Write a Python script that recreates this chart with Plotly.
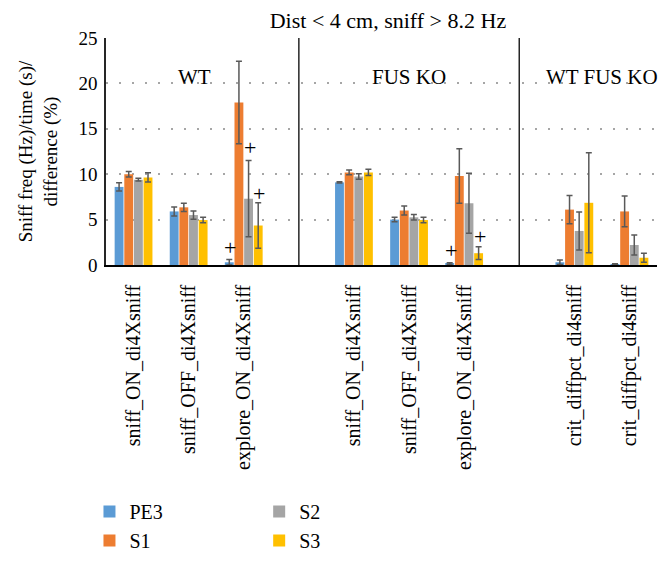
import plotly.graph_objects as go

categories = ["sniff_ON_di4Xsniff", "sniff_OFF_di4Xsniff", "explore_ON_di4Xsniff", "",
              "sniff_ON_di4Xsniff", "sniff_OFF_di4Xsniff", "explore_ON_di4Xsniff", "",
              "crit_diffpct_di4sniff", "crit_diffpct_di4sniff"]

series_names = ["PE3", "S1", "S2", "S3"]
pe3 = [8.6, 5.9, 0.3, None, 9.1, 5.0, 0.15, None, 0.3, 0.1]
s1 = [10.0, 6.35, 17.9, None, 10.2, 6.0, 9.8, None, 6.1, 5.9]
s2 = [9.4, 5.5, 7.3, None, 9.75, 5.25, 6.8, None, 3.75, 2.2]
s3 = [9.65, 4.95, 4.35, None, 10.2, 4.95, 1.3, None, 6.85, 0.8]
pe3_err = [0.45, 0.5, 0.3, None, 0.06, 0.25, 0.1, None, 0.25, 0.05]
s1_err = [0.3, 0.45, 4.55, None, 0.25, 0.5, 3.0, None, 1.55, 1.7]
s2_err = [0.15, 0.45, 4.2, None, 0.3, 0.3, 3.3, None, 2.1, 1.1]
s3_err = [0.5, 0.3, 2.5, None, 0.35, 0.3, 0.7, None, 5.5, 0.5]
colors = ["#5B9BD5", "#ED7D31", "#A5A5A5", "#FFC000"]

group_labels = ["WT", "FUS KO", "WT FUS KO"]
group_centers = [1.1, 5.0, 8.5]
separators = [3, 7]

# "+" markers: (category index, series index, y value)
plus_marks = [(2, 0, 1.9), (2, 2, 12.9), (2, 3, 7.9), (6, 0, 1.6), (6, 3, 3.1)]

x = list(range(len(categories)))
font = "Liberation Serif, Times New Roman, serif"

fig = go.Figure()
values = [pe3, s1, s2, s3]
errs = [pe3_err, s1_err, s2_err, s3_err]
for i, name in enumerate(series_names):
    fig.add_trace(go.Bar(
        x=x, y=values[i], name=name, marker_color=colors[i], marker_line_width=0,
        error_y=dict(type="data", array=errs[i], visible=True, color="#595959",
                     thickness=1.5, width=3),
        legend="legend" if i < 2 else "legend2",
    ))

for xi, si, yv in plus_marks:
    fig.add_annotation(x=xi, y=yv, text="+", showarrow=False, xref="x", yref="y",
                       xshift=(si - 1.5) * 9.6 + 1, font=dict(family=font, size=22, color="black"))

for g, c in zip(group_labels, group_centers):
    fig.add_annotation(x=c, y=20.7, text=g, showarrow=False, xref="x", yref="y",
                       font=dict(family=font, size=21, color="black"))

for s in separators:
    fig.add_shape(type="line", x0=s, x1=s, y0=0, y1=25, xref="x", yref="y",
                  line=dict(color="#262626", width=1.5))

fig.update_layout(
    width=670, height=562,
    margin=dict(l=106, r=13, t=38, b=297, autoexpand=False),
    plot_bgcolor="white", paper_bgcolor="white",
    barmode="group", bargap=0.3, bargroupgap=0.08,
    font=dict(family=font, size=20, color="black"),
    title=dict(text="Dist < 4 cm, sniff > 8.2 Hz", x=0.579, xanchor="center", xref="container",
               y=0.964, yanchor="middle", yref="container",
               font=dict(family=font, size=22, color="black")),
    legend=dict(x=-0.03, y=-1.0, xanchor="left", yanchor="top", orientation="v",
                font=dict(family=font, size=20, color="black"), tracegroupgap=0, itemwidth=30),
    legend2=dict(x=0.278, y=-1.0, xanchor="left", yanchor="top", orientation="v",
                 font=dict(family=font, size=20, color="black"), tracegroupgap=0, itemwidth=30),
    showlegend=True,
)
fig.update_xaxes(
    tickmode="array", tickvals=x, ticktext=categories, tickangle=-90,
    range=[-0.5, 9.5], showline=True, linecolor="black", linewidth=1.5,
    ticks="", showgrid=False, tickfont=dict(family=font, size=20, color="black"),
    ticklabelstandoff=10, automargin=False,
)
fig.update_yaxes(
    range=[0, 25], tickvals=[0, 5, 10, 15, 20, 25], showline=True, linecolor="#262626",
    linewidth=1.5, showgrid=True, gridcolor="#A6A6A6", griddash="2px,11px", gridwidth=1.5,
    zeroline=False, ticks="", tickfont=dict(family=font, size=19, color="black"),
    ticklabelstandoff=3, automargin=False,
    title=dict(text="Sniff freq (Hz)/time (s)/<br>difference (%)", standoff=16,
               font=dict(family=font, size=19, color="black")),
)
fig.write_html("out.html", post_script="document.body.style.margin='0';",
               config={"displayModeBar": False})
